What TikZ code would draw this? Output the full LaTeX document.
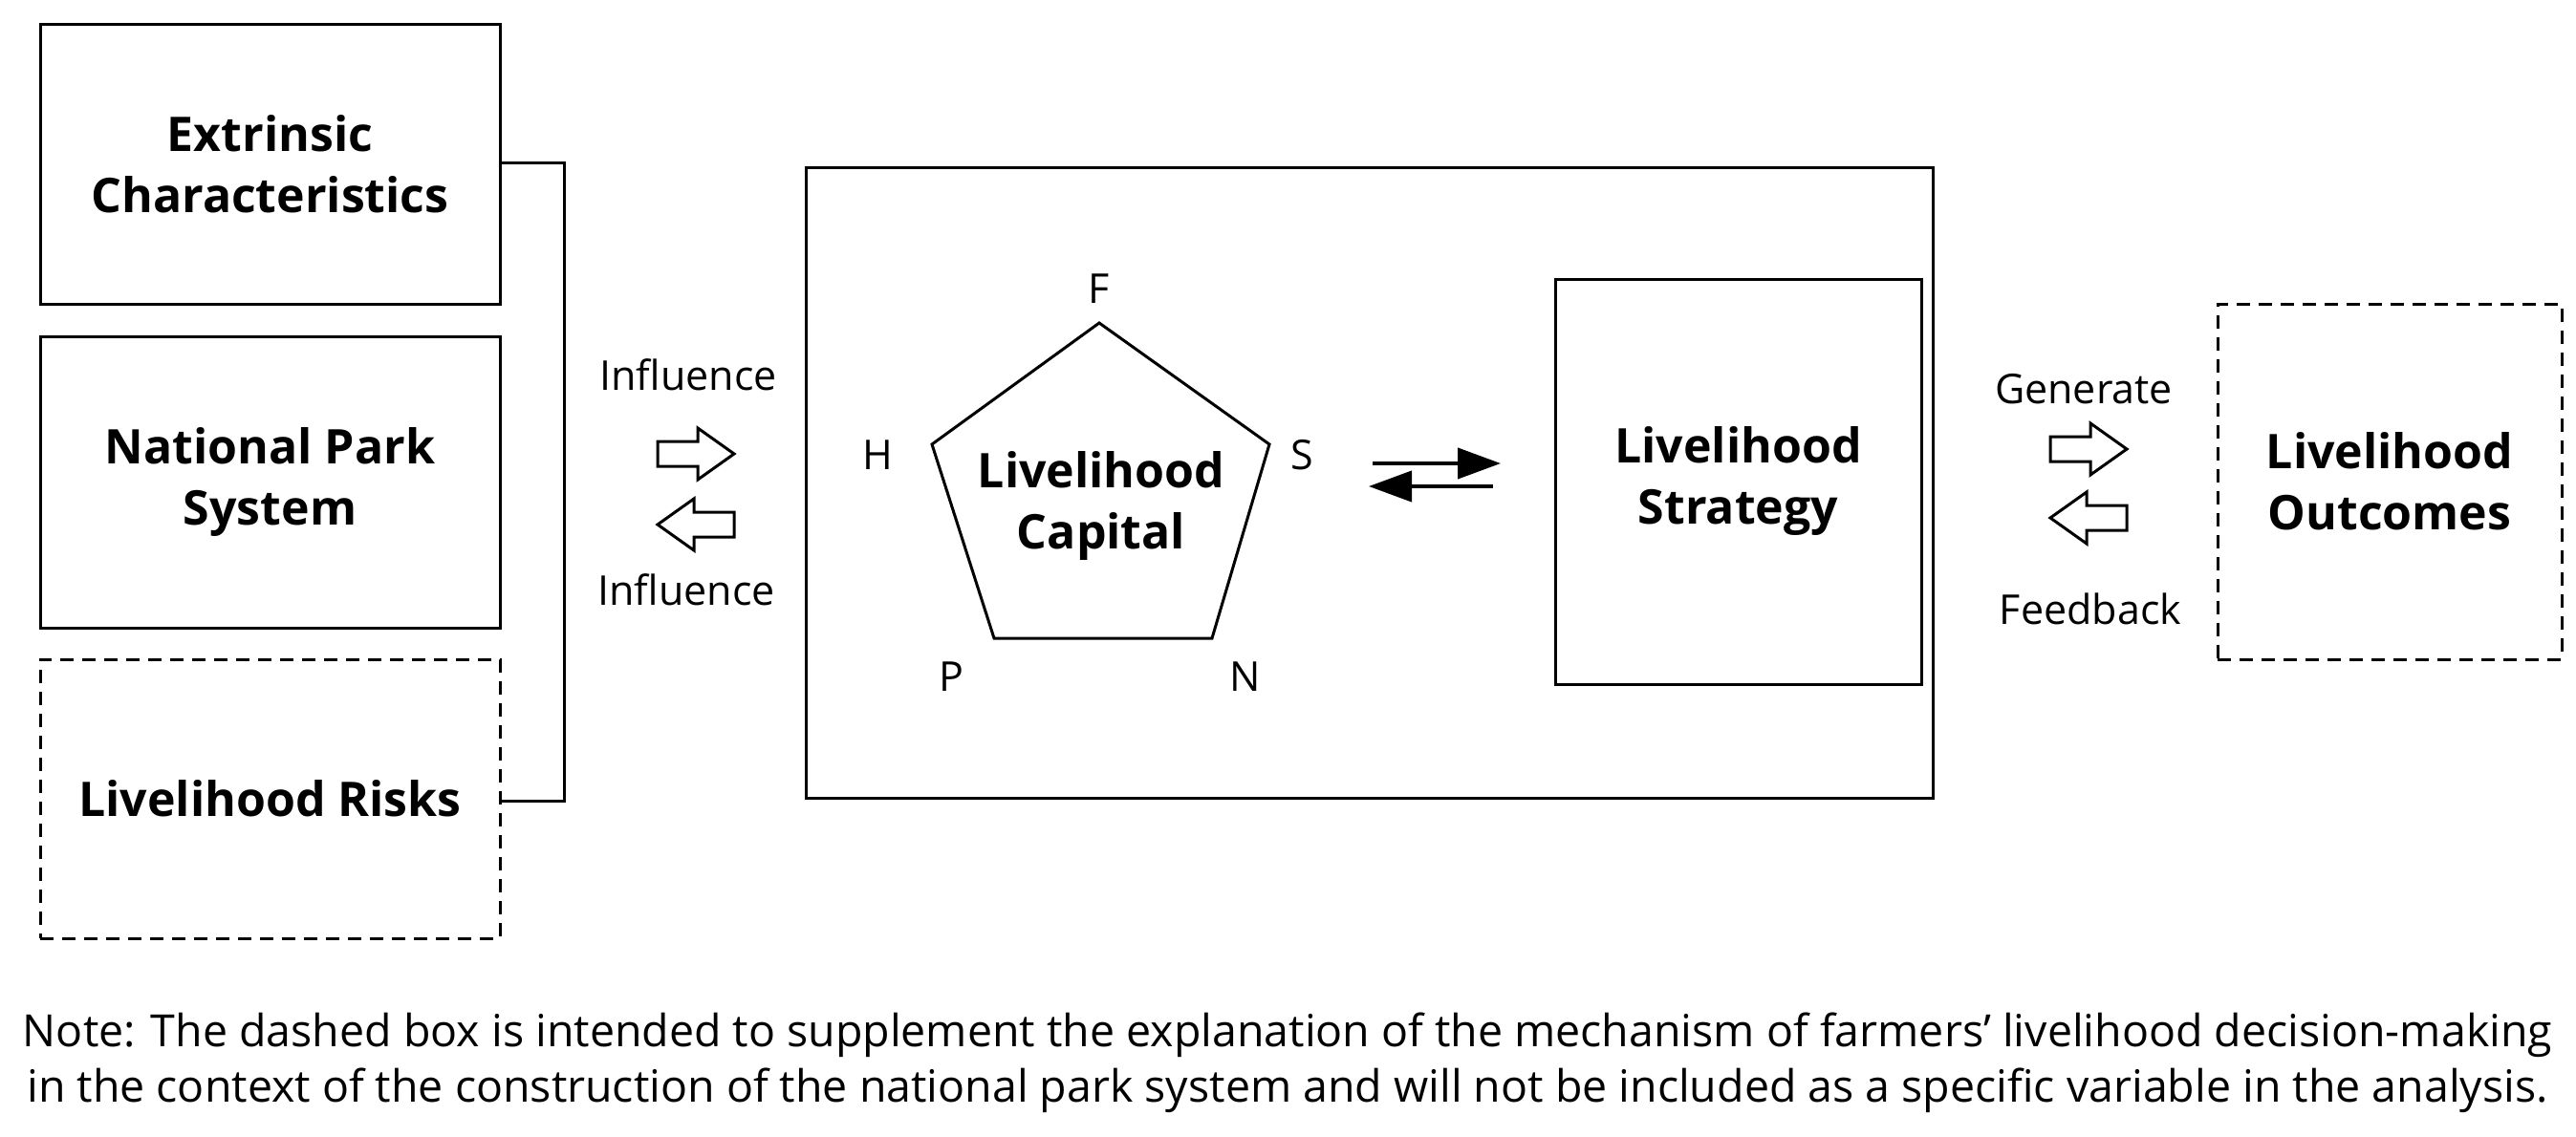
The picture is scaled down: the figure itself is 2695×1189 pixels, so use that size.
\documentclass[tikz,border=0pt]{standalone}
\usepackage{fontspec}
\setmainfont{Open Sans}
\usetikzlibrary{arrows.meta}
\begin{document}
\begin{tikzpicture}[x=1pt,y=-1pt,
  box/.style={draw,line width=3pt,inner sep=0pt},
  dbox/.style={draw,line width=3pt,dash pattern=on 14pt off 9pt,inner sep=0pt},
  big/.style={font=\fontsize{50}{64}\selectfont\bfseries,align=center},
  lab/.style={font=\fontsize{43}{52}\selectfont},
  hollow/.style={draw,line width=3pt,fill=white,line join=miter}]
\useasboundingbox (0,0) rectangle (2695,1189);
\node[box,minimum width=481pt,minimum height=293pt] (ext) at (282.5,171.5) {};
\node[big] at (ext) {Extrinsic\\Characteristics};
\node[box,minimum width=481pt,minimum height=305pt] (nps) at (282.5,504.5) {};
\node[big] at (nps) {National Park\\System};
\node[dbox,minimum width=481pt,minimum height=292pt] (risk) at (282.5,836) {};
\node[big] at (risk) {Livelihood Risks};
\coordinate (b1) at (590,170);
\coordinate (b2) at (590,838);
\draw[line width=3pt] (ext.east |- b1) -- (b1) -- (b2) -- (risk.east |- b2);
\node[box,minimum width=1179pt,minimum height=660pt] (main) at (1432.5,505) {};
% pentagon
\coordinate (F) at (1150,338);
\coordinate (S) at (1328,465);
\coordinate (N) at (1268,668);
\coordinate (P) at (1040,668);
\coordinate (H) at (975,465);
\draw[line width=3pt,line join=miter] (F)--(S)--(N)--(P)--(H)--cycle;
\node[big] (cap) at (1152,530) {Livelihood\\Capital};
\node[lab] at (1150,302) {F};
\node[lab] at (1362,476) {S};
\node[lab] at (1303,708) {N};
\node[lab] at (995,708) {P};
\node[lab] at (918,476) {H};
\node[box,minimum width=383pt,minimum height=424pt] (strat) at (1818.5,504) {};
\node[big] at (strat) {Livelihood\\Strategy};
\coordinate (a1) at (1436,485); \coordinate (a2) at (1570,485);
\coordinate (a3) at (1562,509); \coordinate (a4) at (1432,509);
\draw[line width=4pt,-{Triangle[length=45pt,width=32pt]}] (a1) -- (a2);
\draw[line width=4pt,-{Triangle[length=45pt,width=32pt]}] (a3) -- (a4);
\node[dbox,minimum width=360pt,minimum height=372pt] (out) at (2500,504) {};
\node[big] at (out) {Livelihood\\Outcomes};
% hollow arrows
\draw[hollow] (688,462)--(730,462)--(730,448)--(768,475)--(730,502)--(730,488)--(688,488)--cycle;
\draw[hollow] (768,536)--(726,536)--(726,522)--(688,549)--(726,576)--(726,562)--(768,562)--cycle;
\node[lab] at (720,392) {Influence};
\node[lab] at (718,617) {Influence};
\draw[hollow] (2145,457)--(2187,457)--(2187,443)--(2225,470)--(2187,497)--(2187,483)--(2145,483)--cycle;
\draw[hollow] (2225,529)--(2183,529)--(2183,515)--(2145,542)--(2183,569)--(2183,555)--(2225,555)--cycle;
\node[lab] at (2180,407) {Generate};
\node[lab] at (2187,637) {Feedback};
\node[lab,align=center,font=\fontsize{46.5}{58}\selectfont] (note) at (1347,1112) {Note: The dashed box is intended to supplement the explanation of the mechanism of farmers' livelihood decision-making\\ in the context of the construction of the national park system and will not be included as a specific variable in the analysis.};
\end{tikzpicture}
\end{document}
